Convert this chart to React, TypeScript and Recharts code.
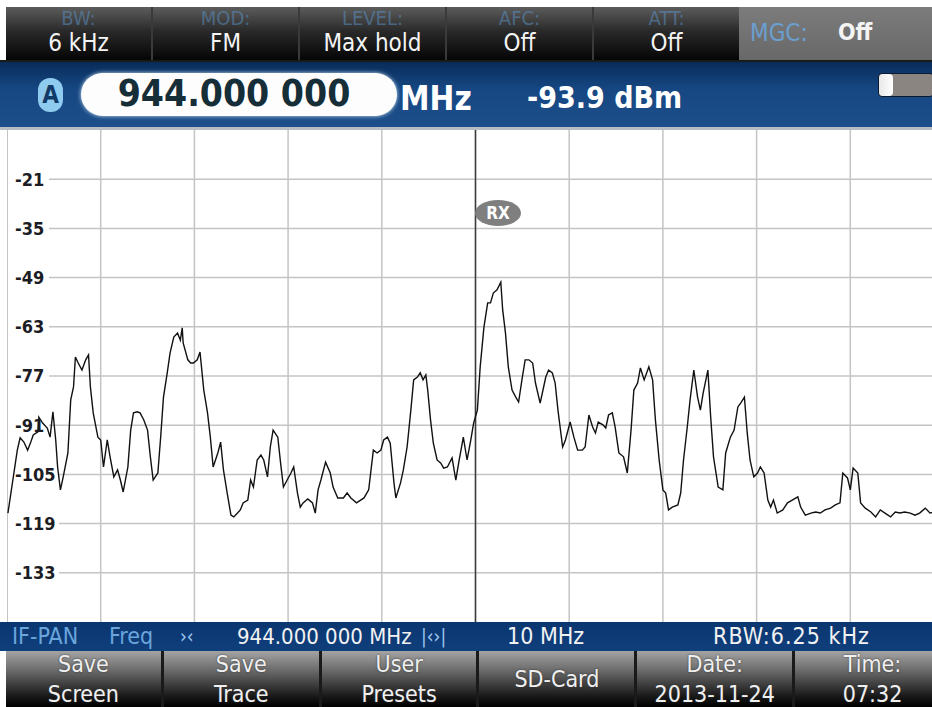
import React from "react";
import { LineChart, Line, XAxis, YAxis, CartesianGrid, ReferenceLine, ReferenceDot } from "recharts";

// IF-PAN trace (MHz / dBm)
const FREQ_MHZ = [
  939.01, 939.11, 939.14, 939.18, 939.22, 939.25, 939.28, 939.33, 939.34, 939.38,
  939.43, 939.46, 939.49, 939.52, 939.54, 939.57, 939.6, 939.65, 939.68, 939.71,
  939.73, 939.76, 939.8, 939.84, 939.87, 939.89, 939.92, 939.97, 940.0, 940.03,
  940.07, 940.1, 940.14, 940.18, 940.21, 940.24, 940.29, 940.32, 940.35, 940.39,
  940.42, 940.46, 940.5, 940.53, 940.56, 940.61, 940.64, 940.67, 940.71, 940.74,
  940.78, 940.82, 940.85, 940.87, 940.88, 940.93, 940.96, 940.99, 941.03, 941.06,
  941.1, 941.14, 941.17, 941.2, 941.25, 941.28, 941.31, 941.35, 941.39, 941.42,
  941.46, 941.49, 941.52, 941.57, 941.6, 941.63, 941.67, 941.71, 941.74, 941.78,
  941.81, 941.84, 941.89, 941.92, 941.95, 941.99, 942.03, 942.06, 942.1, 942.13,
  942.16, 942.21, 942.26, 942.29, 942.32, 942.35, 942.4, 942.45, 942.48, 942.53,
  942.59, 942.63, 942.67, 942.73, 942.81, 942.86, 942.91, 942.95, 942.99, 943.02,
  943.06, 943.09, 943.13, 943.15, 943.2, 943.23, 943.27, 943.31, 943.34, 943.38,
  943.41, 943.44, 943.47, 943.49, 943.52, 943.55, 943.59, 943.63, 943.66, 943.7,
  943.75, 943.79, 943.82, 943.87, 943.91, 943.95, 943.98, 944.02, 944.05, 944.09,
  944.13, 944.16, 944.19, 944.23, 944.27, 944.29, 944.32, 944.35, 944.39, 944.43,
  944.46, 944.5, 944.53, 944.57, 944.61, 944.64, 944.69, 944.75, 944.78, 944.82,
  944.85, 944.88, 944.93, 944.96, 945.01, 945.05, 945.09, 945.14, 945.17, 945.21,
  945.25, 945.28, 945.31, 945.36, 945.39, 945.42, 945.46, 945.49, 945.53, 945.58,
  945.62, 945.66, 945.69, 945.73, 945.76, 945.8, 945.85, 945.89, 945.92, 945.96,
  946.0, 946.03, 946.06, 946.1, 946.16, 946.19, 946.22, 946.26, 946.29, 946.33,
  946.37, 946.4, 946.43, 946.48, 946.51, 946.54, 946.59, 946.64, 946.67, 946.72,
  946.76, 946.8, 946.83, 946.87, 946.9, 946.93, 946.97, 947.01, 947.04, 947.08,
  947.12, 947.15, 947.18, 947.22, 947.28, 947.33, 947.38, 947.44, 947.47, 947.52,
  947.58, 947.63, 947.68, 947.73, 947.79, 947.84, 947.89, 947.92, 947.97, 948.0,
  948.03, 948.08, 948.11, 948.16, 948.22, 948.27, 948.32, 948.37, 948.43, 948.48,
  948.53, 948.58, 948.64, 948.69, 948.74, 948.8, 948.85, 948.92,
];
const LEVEL_DBM = [
  -116.0, -98.1, -94.6, -95.8, -98.1, -96.1, -93.8, -92.9, -88.7, -90.4,
  -91.8, -94.4, -87.2, -95.2, -102.9, -109.4, -105.7, -98.9, -83.8, -80.1,
  -71.6, -73.3, -75.3, -72.4, -71.0, -80.1, -87.5, -94.4, -95.2, -102.9,
  -95.2, -100.0, -105.7, -103.7, -106.6, -110.0, -102.9, -92.4, -87.5, -87.2,
  -87.5, -89.5, -92.4, -100.0, -106.6, -104.6, -94.4, -83.0, -76.1, -70.5,
  -65.9, -64.8, -66.8, -63.3, -67.6, -72.4, -73.3, -73.3, -72.4, -70.2,
  -81.0, -87.5, -94.4, -102.9, -98.9, -95.8, -103.7, -110.3, -116.6, -117.1,
  -116.0, -115.1, -113.1, -112.3, -106.6, -108.6, -100.9, -99.5, -100.9, -105.7,
  -97.2, -92.4, -94.4, -101.8, -108.6, -106.6, -104.6, -102.9, -110.3, -114.3,
  -113.1, -112.0, -113.1, -116.0, -109.4, -106.6, -101.5, -104.6, -108.6, -111.7,
  -111.7, -110.3, -111.7, -113.1, -111.7, -109.4, -98.1, -98.9, -98.1, -95.2,
  -94.4, -96.1, -107.4, -111.7, -107.4, -103.7, -97.2, -86.7, -78.1, -77.3,
  -76.1, -78.1, -76.7, -81.0, -89.5, -96.1, -100.9, -101.8, -103.2, -102.9,
  -100.3, -106.6, -101.8, -94.4, -100.9, -95.2, -90.4, -86.7, -74.4, -63.1,
  -56.2, -56.2, -53.4, -52.5, -50.3, -58.2, -64.8, -74.4, -81.0, -83.0,
  -84.4, -77.3, -72.4, -72.4, -73.3, -79.0, -84.7, -77.3, -75.3, -76.1,
  -79.0, -86.7, -97.2, -95.2, -90.1, -94.4, -98.1, -98.1, -97.2, -88.1,
  -91.5, -93.2, -90.1, -90.9, -91.8, -88.1, -87.5, -91.5, -98.9, -100.0,
  -104.6, -92.4, -81.0, -79.0, -74.7, -78.1, -74.4, -78.1, -89.5, -100.9,
  -109.4, -110.3, -115.1, -114.3, -113.7, -110.3, -100.9, -91.5, -83.8, -75.3,
  -83.0, -86.7, -81.8, -75.3, -88.7, -100.0, -108.6, -109.4, -98.9, -94.4,
  -92.4, -85.8, -84.7, -83.0, -93.2, -100.9, -105.7, -104.6, -102.9, -104.6,
  -112.3, -114.3, -112.3, -116.0, -115.1, -113.1, -112.3, -111.4, -114.3, -116.6,
  -116.0, -115.7, -116.0, -115.1, -114.6, -113.7, -113.1, -104.6, -106.0, -109.4,
  -103.2, -104.6, -113.1, -114.6, -115.7, -117.1, -115.1, -116.0, -117.1, -115.7,
  -116.0, -115.7, -116.0, -116.6, -116.0, -114.6, -116.0, -115.4,
];

const SPAN_MHZ = [939, 949];
const GRID_MHZ = [940, 941, 942, 943, 944, 945, 946, 947, 948];
const CENTER_MHZ = 944;
const LEVEL_RANGE = [-147, -7];
const LEVEL_TICKS = [-133, -119, -105, -91, -77, -63, -49, -35, -21];
const RX_MARK = { freq: 944.24, level: -30.6 };

const TOP_KEYS = [
  { label: "BW:", value: "6 kHz" },
  { label: "MOD:", value: "FM" },
  { label: "LEVEL:", value: "Max hold" },
  { label: "AFC:", value: "Off" },
  { label: "ATT:", value: "Off" },
];
const BOTTOM_KEYS = [
  ["Save", "Screen"],
  ["Save", "Trace"],
  ["User", "Presets"],
  ["SD-Card"],
  ["Date:", "2013-11-24"],
  ["Time:", "07:32"],
];

const trace = FREQ_MHZ.map((f, i) => ({ freq: f, level: LEVEL_DBM[i] }));

const NARROW = "'Liberation Sans Narrow','DejaVu Sans Condensed','DejaVu Sans',sans-serif";
const PLOT_W = 937;
const PLOT_H = 492;
const PX_PER_MHZ = PLOT_W / (SPAN_MHZ[1] - SPAN_MHZ[0]);

// horizontal grid lines stop short of the level label on the left
const gridStart = (tick: number) => SPAN_MHZ[0] + (12 + String(tick).length * 10) / PX_PER_MHZ;

function LevelTick(props: any) {
  const { y, payload } = props;
  return (
    <text x={8} y={y} dy="0.36em" fontFamily={NARROW} fontStretch="condensed" fontWeight="bold" fontSize={18} fill="#1c1c24">
      {String(payload.value)}
    </text>
  );
}

function RxBadge(props: any) {
  const { cx, cy } = props;
  return (
    <g>
      <ellipse cx={cx} cy={cy} rx={23} ry={13} fill="#7f7f7f" />
      <text x={cx} y={cy} dy="0.36em" textAnchor="middle" fontFamily={NARROW} fontWeight="bold" fontSize={17} fill="#ffffff">
        RX
      </text>
    </g>
  );
}

export default function App() {
  return (
    <div style={{ position: "fixed", left: 0, top: 0, width: 932, height: 707, overflow: "hidden", background: "#fff", fontFamily: NARROW, fontStretch: "condensed" }}>
      {/* top softkeys */}
      <div style={{ position: "absolute", left: 6, top: 7, width: 733, height: 53, display: "flex", background: "#111" }}>
        {TOP_KEYS.map((k, i) => (
          <div
            key={k.label}
            style={{
              flex: 1,
              borderLeft: i ? "2px solid #3a3a3a" : "none",
              background: "linear-gradient(#5c5c5c, #2a2a2a 45%, #050505)",
              textAlign: "center",
              position: "relative",
            }}
          >
            <div style={{ position: "absolute", left: 0, right: 0, top: 0, fontSize: 20, lineHeight: "22px", color: "rgba(90,150,205,0.5)" }}>{k.label}</div>
            <div style={{ position: "absolute", left: 0, right: 0, top: 22, fontSize: 24, color: "#f4f4f4" }}>{k.value}</div>
          </div>
        ))}
      </div>
      <div style={{ position: "absolute", left: 739, top: 7, width: 193, height: 53, background: "linear-gradient(#7c7c7c, #686868)" }}>
        <span style={{ position: "absolute", left: 11, top: 12, fontSize: 24, color: "#6a9fd0" }}>MGC:</span>
        <span style={{ position: "absolute", left: 99, top: 12, fontSize: 23, fontWeight: "bold", color: "#f4f4f4" }}>Off</span>
      </div>

      {/* frequency bar */}
      <div style={{ position: "absolute", left: 0, top: 60, width: 932, height: 67, background: "linear-gradient(#082c5a, #164782 40%, #1d4f8b)", borderTop: "2px solid #1a1a1a" }}>
        <div style={{ position: "absolute", left: 38, top: 16, width: 25, height: 34, borderRadius: 12, background: "#8fcbef", color: "#123a66", fontWeight: "bold", fontSize: 24, textAlign: "center", lineHeight: "34px" }}>A</div>
        <div style={{ position: "absolute", left: 81, top: 11, width: 316, height: 43, borderRadius: 22, background: "#fdfdfd", boxShadow: "0 0 4px #cfe3f5" }} />
        <div style={{ position: "absolute", left: 81, top: 9, width: 306, textAlign: "center", fontSize: 37, fontWeight: "bold", color: "#162e38", lineHeight: "46px" }}>944.000 000</div>
        <div style={{ position: "absolute", left: 400, top: 16, fontSize: 33, fontWeight: "bold", color: "#ffffff", lineHeight: "42px" }}>MHz</div>
        <div style={{ position: "absolute", left: 527, top: 15, fontSize: 30, fontWeight: "bold", color: "#ffffff", lineHeight: "42px" }}>-93.9 dBm</div>
        <div style={{ position: "absolute", left: 878, top: 11, width: 54, height: 22, borderRadius: 4, background: "#8a8580", border: "1px solid #0a1a30" }}>
          <div style={{ width: 14, height: 22, borderRadius: 4, background: "linear-gradient(90deg,#e8e8e8,#ffffff)" }} />
        </div>
      </div>
      <div style={{ position: "absolute", left: 0, top: 127, width: 932, height: 3, background: "#b9bcc2" }} />

      {/* spectrum */}
      <div style={{ position: "absolute", left: 7, top: 130 }}>
        <LineChart width={PLOT_W} height={PLOT_H} data={trace} margin={{ top: 0, right: 0, bottom: 0, left: 0 }}>
          <CartesianGrid stroke="#c4c4c4" strokeWidth={1.5} horizontal={false} />
          <XAxis dataKey="freq" type="number" domain={SPAN_MHZ} ticks={GRID_MHZ} hide />
          <YAxis type="number" domain={LEVEL_RANGE} ticks={LEVEL_TICKS} width={60} mirror interval={0} axisLine={false} tickLine={false} tick={LevelTick} />
          {LEVEL_TICKS.map((t) => (
            <ReferenceLine
              key={t}
              segment={[
                { x: gridStart(t), y: t },
                { x: SPAN_MHZ[1], y: t },
              ]}
              stroke="#c4c4c4"
              strokeWidth={1.5}
            />
          ))}
          <ReferenceLine x={SPAN_MHZ[0]} stroke="#c4c4c4" strokeWidth={2} />
          <ReferenceLine x={CENTER_MHZ} stroke="#3a3a3a" strokeWidth={1.5} />
          <Line dataKey="level" type="linear" stroke="#111111" strokeWidth={1.4} dot={false} isAnimationActive={false} />
          <ReferenceDot x={RX_MARK.freq} y={RX_MARK.level} r={13} shape={<RxBadge />} />
        </LineChart>
      </div>

      {/* info bar */}
      <div style={{ position: "absolute", left: 0, top: 622, width: 932, height: 29, background: "linear-gradient(#0b3670, #0f3f7c)", fontSize: 22, lineHeight: "29px", color: "#f2f2f2" }}>
        <span style={{ position: "absolute", left: 12, color: "#6aa5dc", fontSize: 23 }}>IF-PAN</span>
        <span style={{ position: "absolute", left: 109, color: "#6aa5dc", fontSize: 23 }}>Freq</span>
        <span style={{ position: "absolute", left: 180, color: "#9cc6ee", fontSize: 19 }}>{"›‹"}</span>
        <span style={{ position: "absolute", left: 237 }}>944.000 000 MHz</span>
        <span style={{ position: "absolute", left: 421, color: "#9cc6ee", fontSize: 19 }}>{"|‹›|"}</span>
        <span style={{ position: "absolute", left: 507, fontSize: 23 }}>10 MHz</span>
        <span style={{ position: "absolute", left: 713, fontSize: 23, letterSpacing: 1 }}>RBW:6.25 kHz</span>
      </div>

      {/* bottom softkeys */}
      <div style={{ position: "absolute", left: 6, top: 651, width: 944, height: 56, display: "flex", background: "#000" }}>
        {BOTTOM_KEYS.map((lines, i) => (
          <div
            key={i}
            style={{
              flex: 1,
              borderLeft: i ? "3px solid #1a1a1a" : "none",
              background: "linear-gradient(#a4a4a4, #6a6a6a 35%, #1a1a1a 80%, #000)",
              color: "#f0f0f0",
              textAlign: "center",
              fontSize: 23,
              lineHeight: "30px",
              display: "flex",
              flexDirection: "column",
              justifyContent: "center",
              textShadow: "0 0 2px #333",
            }}
          >
            {lines.map((t) => (
              <div key={t}>{t}</div>
            ))}
          </div>
        ))}
      </div>
    </div>
  );
}
